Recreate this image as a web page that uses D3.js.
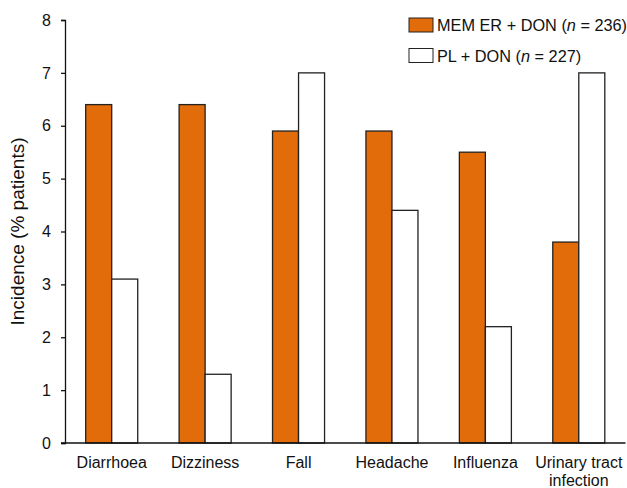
<!DOCTYPE html>
<html>
<head>
<meta charset="utf-8">
<script src="https://cdn.jsdelivr.net/npm/d3@7"></script>
<style>
  body { margin: 0; background: #fff; }
  text { font-family: "Liberation Sans", Arial, sans-serif; fill: #111; }
</style>
</head>
<body>
<div id="chart"></div>
<script>
// data
const categories = ["Diarrhoea", "Dizziness", "Fall", "Headache", "Influenza", "Urinary tract infection"];
const memValues = [6.4, 6.4, 5.9, 5.9, 5.5, 3.8];
const plValues = [3.1, 1.3, 7.0, 4.4, 2.2, 7.0];
const seriesNames = ["MEM ER + DON", "PL + DON"];
const seriesN = [236, 227];
const yTicks = [0, 1, 2, 3, 4, 5, 6, 7, 8];

const width = 627, height = 488;
const margin = { top: 20, right: 1.5, bottom: 45, left: 65 };

const svg = d3.select('#chart').append('svg')
    .attr('width', width)
    .attr('height', height);

const x = d3.scaleBand()
    .domain(categories)
    .range([margin.left, width - margin.right])
    .paddingInner(0.443)
    .paddingOuter(0.2215);

const xSub = d3.scaleBand()
    .domain([0, 1])
    .range([0, x.bandwidth()]);

const y = d3.scaleLinear()
    .domain([0, 8])
    .range([height - margin.bottom, margin.top]);

const colors = ['#e36c0a', '#ffffff'];

// bars
const groups = svg.selectAll('g.group')
    .data(categories)
    .enter().append('g')
    .attr('class', 'group')
    .attr('transform', d => `translate(${x(d)},0)`);

groups.selectAll('rect')
    .data((d, i) => [memValues[i], plValues[i]])
    .enter().append('rect')
    .attr('x', (d, j) => xSub(j))
    .attr('y', d => y(d))
    .attr('width', xSub.bandwidth())
    .attr('height', d => y(0) - y(d))
    .style('fill', (d, j) => colors[j])
    .style('stroke', '#222')
    .style('stroke-width', 1.3);

// y axis
const yAxis = svg.append('g')
    .attr('transform', `translate(${margin.left},0)`)
    .call(d3.axisLeft(y).tickValues(yTicks).tickSize(4).tickPadding(10));
yAxis.select('.domain').attr('stroke', '#111').attr('stroke-width', 1.3);
yAxis.selectAll('.tick line').attr('stroke', '#111').attr('stroke-width', 1.3);
yAxis.selectAll('.tick text')
    .style('font-size', '16px')
    .style('font-family', '"Liberation Sans", Arial, sans-serif')
    .attr('fill', '#111');

// x axis
const xAxis = svg.append('g')
    .attr('transform', `translate(0,${y(0)})`)
    .call(d3.axisBottom(x).tickSize(0).tickPadding(14));
xAxis.select('.domain')
    .attr('d', `M${margin.left - 4},0H${width - margin.right}`)
    .attr('stroke', '#111').attr('stroke-width', 1.3);
xAxis.selectAll('.tick text')
    .style('font-size', '16px')
    .style('font-family', '"Liberation Sans", Arial, sans-serif')
    .attr('fill', '#111')
    .each(function(d) {
        // wrap the long label onto two lines
        if (d === "Urinary tract infection") {
            const t = d3.select(this);
            t.text(null);
            t.append('tspan').attr('x', 0).attr('dy', '0.71em').text('Urinary tract');
            t.append('tspan').attr('x', 0).attr('dy', '1.1em').text('infection');
            t.attr('dy', null);
        }
    });

// y axis title
svg.append('text')
    .attr('transform', `translate(24,${(y(0) + y(8)) / 2}) rotate(-90)`)
    .attr('text-anchor', 'middle')
    .style('font-size', '19px')
    .text('Incidence (% patients)');

// legend
const legend = svg.append('g').attr('transform', 'translate(409,18)');
seriesNames.forEach((name, i) => {
    const row = legend.append('g').attr('transform', `translate(0,${i * 30.5})`);
    row.append('rect')
        .attr('width', 24)
        .attr('height', 14)
        .style('fill', colors[i])
        .style('stroke', '#222')
        .style('stroke-width', 1);
    const t = row.append('text')
        .attr('x', 28)
        .attr('y', 13)
        .style('font-size', '16.3px');
    t.append('tspan').text(name + ' (');
    t.append('tspan').style('font-style', 'italic').text('n');
    t.append('tspan').text(' = ' + seriesN[i] + ')');
});
</script>
</body>
</html>
